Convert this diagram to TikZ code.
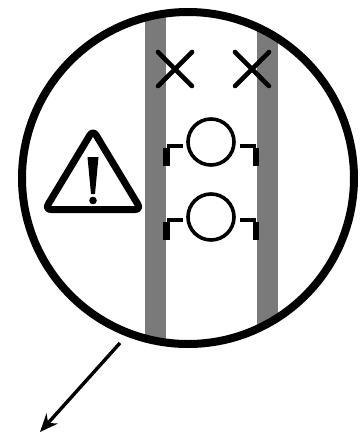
\documentclass[tikz,border=0pt]{standalone}
\usetikzlibrary{arrows.meta}
\tikzset{
    railbar/.style={fill=black!52, draw=none},
    lens/.style={circle, draw, line width=8pt, minimum size=332pt, inner sep=0pt},
    contact/.style={circle, draw, line width=3.6pt, minimum size=46pt, inner sep=0pt},
    cross/.style={line width=4.6pt, line cap=round},
    hook/.style={line width=4pt},
}
\begin{document}
\begin{tikzpicture}[x=1pt, y=-1pt]
    \useasboundingbox (0,0) rectangle (361,432);
    \begin{scope}
        \clip (188,178) circle (166pt);
        \fill[railbar] (145,0) rectangle (166,432);
        \fill[railbar] (257,0) rectangle (278,432);
    \end{scope}
    \node[lens] (ring) at (188,178) {};

    \draw[cross] (158,52) -- (192,86);
    \draw[cross] (192,52) -- (158,86);
    \draw[cross] (235,52) -- (269,86);
    \draw[cross] (269,52) -- (235,86);

    \node[contact] (upper) at (211,142) {};
    \node[contact] (lower) at (211,217) {};
    \foreach \c/\y in {upper/145.5, lower/219.5} {
        \coordinate (\c west) at (166.5,\y);
        \coordinate (\c east) at (256,\y);
        \draw[hook] (\c west) -- ++(16.5,0);
        \draw[hook] (\c east) -- ++(-16,0);
        \draw[line width=7pt] ([yshift=-2pt]\c west) -- ++(0,18.5);
        \draw[line width=6pt] ([yshift=-2pt]\c east) -- ++(0,18.5);
    }

    \draw[line width=7pt, line join=round, rounded corners=6pt] (93,130) -- (141,209.5) -- (45,209.5) -- cycle;
    \fill (87.5,157) -- (98.5,157) -- (95,194) -- (91,194) -- cycle;
    \fill (93,200.5) circle (3.8pt);

    \coordinate (tail) at (120,343);
    \coordinate (head) at (40,432);
    \draw[-{Stealth[length=18pt, width=15pt]}, line width=3.4pt] (tail) -- (head);
\end{tikzpicture}
\end{document}
